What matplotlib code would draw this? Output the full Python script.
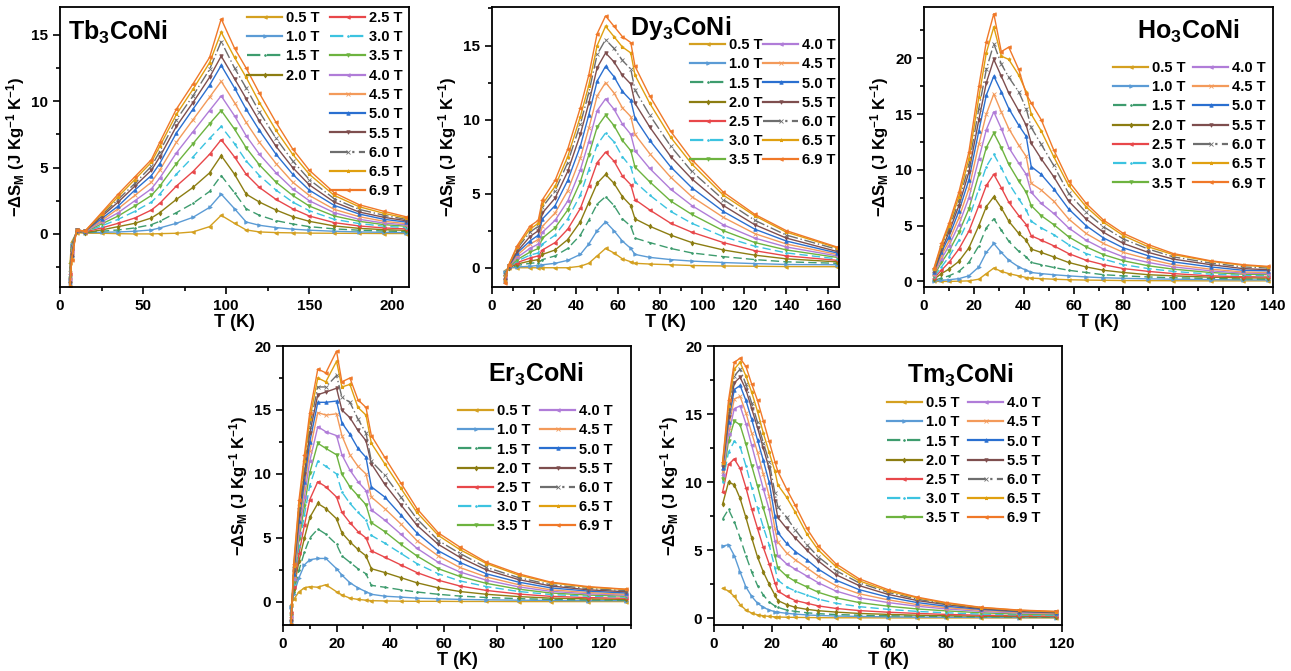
import matplotlib
matplotlib.use("Agg")
import matplotlib.pyplot as plt
from matplotlib.lines import Line2D
from matplotlib.ticker import MultipleLocator

plt.rcParams.update({
    "font.family": ["Liberation Sans", "DejaVu Sans"],
    "font.weight": "bold",
    "axes.labelweight": "bold",
    "mathtext.fontset": "custom",
    "mathtext.rm": "Liberation Sans:bold",
    "mathtext.bf": "Liberation Sans:bold",
    "mathtext.it": "Liberation Sans:bold",
    "mathtext.default": "bf",
})

# applied magnetic field steps, one curve each
fields = ["0.5 T", "1.0 T", "1.5 T", "2.0 T", "2.5 T", "3.0 T", "3.5 T",
          "4.0 T", "4.5 T", "5.0 T", "5.5 T", "6.0 T", "6.5 T", "6.9 T"]
colors = ["#D4A020", "#5B9BD5", "#3E9C6E", "#8C7D12", "#E8474A", "#3CC3E0", "#6DB33F",
          "#B07CD8", "#F39A5A", "#2A6FD0", "#7E4E4E", "#6E6E6E", "#E0A010", "#F07828"]
linestyles = ["-", "-", (0, (6, 3)), "-", "-", (0, (6, 3)), "-",
              "-", "-", "-", "-", (0, (8, 2, 1, 2)), "-", "-"]
markers = ["<", ">", ".", "d", "<", ".", "v", "<", "x", "^", "v", "x", "*", "<"]

# Tb3CoNi: -dS_M vs T
tb_T = [6, 7, 10, 15, 25, 35, 45, 55, 60, 70, 80, 90, 97, 105, 112, 120, 130, 140, 150, 165, 180, 195, 208]
tb_dS = [
    [-2.2, -0.6, 0.1, 0.05, 0.05, 0.02, 0.0, 0.0, 0.02, 0.05, 0.15, 0.55, 1.4, 0.8, 0.3, 0.15, 0.1, 0.08, 0.06, 0.05, 0.04, 0.03, 0.03],
    [-3.4, -0.8, 0.15, 0.1, 0.12, 0.15, 0.2, 0.3, 0.45, 0.8, 1.25, 2.0, 3.0, 1.9, 0.9, 0.65, 0.48, 0.36, 0.28, 0.2, 0.15, 0.12, 0.1],
    [-2.6, -0.9, 0.2, 0.1, 0.2, 0.3, 0.45, 0.7, 0.95, 1.6, 2.3, 3.2, 4.4, 3.1, 1.9, 1.4, 1.0, 0.75, 0.55, 0.38, 0.28, 0.22, 0.18],
    [-2.8, -1.0, 0.2, 0.1, 0.3, 0.55, 0.8, 1.2, 1.6, 2.6, 3.5, 4.6, 5.9, 4.5, 3.0, 2.4, 1.8, 1.3, 0.95, 0.6, 0.42, 0.32, 0.27],
    [-3.0, -1.1, 0.2, 0.15, 0.45, 0.8, 1.2, 1.8, 2.3, 3.6, 4.7, 6.0, 7.1, 5.8, 4.5, 3.5, 2.6, 1.9, 1.35, 0.85, 0.6, 0.45, 0.38],
    [-3.2, -1.2, 0.25, 0.15, 0.6, 1.1, 1.7, 2.4, 3.0, 4.5, 5.8, 7.2, 8.1, 6.8, 5.5, 4.4, 3.3, 2.4, 1.75, 1.1, 0.78, 0.58, 0.48],
    [-3.3, -1.3, 0.25, 0.15, 0.75, 1.35, 2.1, 2.9, 3.6, 5.3, 6.8, 8.3, 9.3, 7.9, 6.5, 5.2, 3.9, 2.9, 2.1, 1.35, 0.95, 0.7, 0.58],
    [-3.4, -1.4, 0.25, 0.15, 0.9, 1.6, 2.5, 3.4, 4.2, 6.1, 7.7, 9.3, 10.4, 8.9, 7.4, 6.0, 4.6, 3.4, 2.5, 1.6, 1.1, 0.82, 0.68],
    [-3.5, -1.5, 0.3, 0.2, 1.0, 1.9, 2.9, 3.9, 4.8, 6.9, 8.6, 10.3, 11.5, 9.9, 8.4, 6.9, 5.3, 3.9, 2.9, 1.85, 1.3, 0.95, 0.78],
    [-3.6, -1.6, 0.3, 0.2, 1.15, 2.1, 3.3, 4.4, 5.3, 7.6, 9.4, 11.2, 12.7, 11.0, 9.4, 7.8, 6.0, 4.5, 3.3, 2.15, 1.5, 1.1, 0.9],
    [-3.7, -1.7, 0.3, 0.2, 1.3, 2.4, 3.6, 4.8, 5.8, 8.1, 9.9, 11.8, 13.4, 11.7, 10.2, 8.5, 6.6, 5.0, 3.7, 2.4, 1.65, 1.25, 1.0],
    [-3.8, -1.8, 0.3, 0.2, 1.4, 2.6, 3.8, 5.1, 6.2, 8.6, 10.4, 12.4, 14.5, 12.5, 11.0, 9.2, 7.2, 5.5, 4.1, 2.65, 1.85, 1.4, 1.1],
    [-3.9, -1.9, 0.3, 0.2, 1.5, 2.8, 4.1, 5.4, 6.6, 9.0, 10.9, 12.9, 15.2, 13.3, 11.8, 9.9, 7.8, 6.0, 4.5, 2.9, 2.05, 1.55, 1.2],
    [-4.0, -2.0, 0.3, 0.2, 1.6, 3.0, 4.3, 5.6, 6.9, 9.4, 11.3, 13.3, 16.2, 14.0, 12.5, 10.6, 8.4, 6.4, 4.8, 3.1, 2.2, 1.7, 1.3],
]

# Dy3CoNi
dy_T = [6, 8, 12, 18, 22, 24, 30, 36, 42, 46, 50, 54, 58, 62, 66, 68, 75, 85, 95, 110, 125, 140, 164]
dy_dS = [
    [-0.2, 0.0, 0.0, 0.0, 0.0, 0.0, 0.0, 0.0, 0.1, 0.3, 0.8, 1.3, 1.0, 0.6, 0.4, 0.3, 0.25, 0.2, 0.15, 0.12, 0.1, 0.08, 0.07],
    [-0.3, 0.0, 0.05, 0.1, 0.15, 0.2, 0.3, 0.5, 0.9, 1.6, 2.5, 3.1, 2.5, 1.8, 1.3, 0.9, 0.7, 0.55, 0.45, 0.35, 0.28, 0.22, 0.2],
    [-0.4, 0.0, 0.15, 0.3, 0.35, 0.55, 0.8, 1.3, 2.2, 3.2, 4.3, 4.8, 4.2, 3.3, 2.8, 2.0, 1.7, 1.3, 1.0, 0.75, 0.55, 0.4, 0.3],
    [-0.5, 0.0, 0.25, 0.45, 0.55, 0.9, 1.2, 1.9, 3.1, 4.4, 5.7, 6.3, 5.7, 4.8, 4.2, 3.3, 2.8, 2.2, 1.7, 1.2, 0.85, 0.6, 0.4],
    [-0.5, 0.05, 0.35, 0.65, 0.8, 1.2, 1.7, 2.6, 4.0, 5.5, 7.1, 7.8, 7.2, 6.2, 5.6, 4.6, 3.9, 3.0, 2.4, 1.7, 1.15, 0.8, 0.5],
    [-0.6, 0.05, 0.45, 0.85, 1.0, 1.6, 2.2, 3.3, 4.9, 6.6, 8.3, 9.1, 8.5, 7.5, 6.8, 5.8, 4.9, 3.8, 3.0, 2.1, 1.45, 1.0, 0.6],
    [-0.6, 0.05, 0.55, 1.05, 1.3, 2.0, 2.7, 3.9, 5.8, 7.6, 9.5, 10.3, 9.6, 8.6, 7.9, 6.8, 5.8, 4.5, 3.6, 2.5, 1.7, 1.2, 0.7],
    [-0.7, 0.1, 0.7, 1.3, 1.6, 2.4, 3.2, 4.5, 6.6, 8.5, 10.6, 11.4, 10.7, 9.7, 9.0, 7.9, 6.7, 5.3, 4.2, 2.9, 2.0, 1.4, 0.8],
    [-0.7, 0.1, 0.85, 1.6, 1.9, 2.8, 3.7, 5.2, 7.4, 9.4, 11.6, 12.5, 11.8, 10.8, 10.2, 9.0, 7.7, 6.1, 4.8, 3.4, 2.3, 1.6, 0.9],
    [-0.8, 0.1, 1.0, 1.8, 2.2, 3.3, 4.2, 5.9, 8.2, 10.3, 12.6, 13.6, 12.9, 11.9, 11.3, 10.1, 8.6, 6.8, 5.4, 3.8, 2.6, 1.8, 1.0],
    [-0.8, 0.15, 1.1, 2.1, 2.5, 3.7, 4.7, 6.5, 9.0, 11.1, 13.5, 14.5, 13.9, 13.0, 12.4, 11.1, 9.5, 7.5, 6.0, 4.2, 2.9, 2.0, 1.1],
    [-0.9, 0.15, 1.3, 2.4, 2.8, 4.1, 5.2, 7.1, 9.7, 11.8, 14.4, 15.4, 14.8, 14.0, 13.4, 12.0, 10.3, 8.2, 6.5, 4.6, 3.2, 2.2, 1.25],
    [-0.9, 0.2, 1.4, 2.6, 3.0, 4.3, 5.5, 7.5, 10.2, 12.3, 15.0, 16.3, 15.6, 14.9, 14.5, 13.0, 11.1, 8.8, 7.0, 4.9, 3.5, 2.4, 1.35],
    [-1.0, 0.2, 1.5, 2.8, 3.2, 4.6, 5.9, 8.0, 10.8, 13.0, 15.8, 17.0, 16.3, 15.6, 15.2, 13.6, 11.6, 9.2, 7.3, 5.1, 3.6, 2.5, 1.4],
]

# Ho3CoNi
ho_T = [4, 7, 10, 14, 18, 22, 25, 28, 31, 34, 38, 41, 43, 47, 52, 58, 65, 72, 80, 90, 100, 115, 128, 138]
ho_dS = [
    [0.0, 0.0, 0.0, 0.02, 0.05, 0.2, 0.7, 1.2, 0.9, 0.7, 0.5, 0.35, 0.3, 0.25, 0.2, 0.15, 0.12, 0.1, 0.08, 0.07, 0.06, 0.05, 0.05, 0.05],
    [0.05, 0.1, 0.15, 0.25, 0.5, 1.3, 2.6, 3.4, 2.6, 1.9, 1.3, 1.0, 0.8, 0.7, 0.6, 0.5, 0.4, 0.33, 0.28, 0.23, 0.2, 0.16, 0.14, 0.13],
    [0.1, 0.3, 0.5, 0.9, 1.7, 3.2, 4.8, 5.6, 4.6, 3.6, 2.7, 2.2, 1.7, 1.5, 1.25, 1.0, 0.8, 0.6, 0.5, 0.4, 0.33, 0.27, 0.22, 0.2],
    [0.2, 0.7, 1.1, 1.8, 3.0, 5.0, 6.7, 7.6, 6.6, 5.4, 4.3, 3.7, 2.9, 2.6, 2.2, 1.7, 1.3, 1.0, 0.8, 0.6, 0.5, 0.38, 0.32, 0.3],
    [0.3, 1.0, 1.7, 2.9, 4.5, 6.8, 8.6, 9.6, 8.4, 7.1, 5.9, 5.1, 4.1, 3.7, 3.2, 2.5, 1.9, 1.5, 1.15, 0.9, 0.7, 0.5, 0.42, 0.4],
    [0.4, 1.3, 2.2, 3.7, 5.6, 8.3, 10.3, 11.4, 10.2, 8.8, 7.4, 6.4, 5.4, 4.8, 4.2, 3.3, 2.5, 2.0, 1.5, 1.15, 0.9, 0.65, 0.55, 0.5],
    [0.5, 1.7, 2.7, 4.4, 6.5, 9.6, 12.0, 13.3, 12.0, 10.5, 9.0, 8.0, 6.8, 5.9, 5.1, 4.0, 3.1, 2.4, 1.85, 1.4, 1.1, 0.8, 0.65, 0.6],
    [0.6, 2.0, 3.2, 5.1, 7.5, 11.0, 13.6, 15.2, 13.7, 12.0, 10.6, 9.6, 8.0, 7.0, 6.1, 4.8, 3.7, 2.9, 2.2, 1.7, 1.3, 0.95, 0.75, 0.7],
    [0.7, 2.3, 3.6, 5.7, 8.3, 12.3, 15.0, 16.8, 15.2, 13.7, 12.2, 11.2, 8.8, 8.2, 7.2, 5.6, 4.3, 3.4, 2.6, 2.0, 1.5, 1.1, 0.85, 0.8],
    [0.8, 2.6, 4.0, 6.3, 9.1, 13.5, 16.7, 18.4, 17.0, 15.5, 14.0, 13.0, 10.3, 9.6, 8.3, 6.5, 5.0, 3.9, 3.0, 2.3, 1.75, 1.3, 1.0, 0.95],
    [0.9, 2.8, 4.4, 6.8, 9.8, 14.5, 17.8, 19.9, 18.4, 16.9, 15.3, 14.0, 12.4, 11.0, 9.4, 7.2, 5.6, 4.4, 3.4, 2.6, 2.0, 1.5, 1.15, 1.05],
    [1.0, 3.0, 4.7, 7.2, 10.4, 15.5, 19.0, 21.3, 19.5, 18.3, 17.0, 15.5, 13.8, 12.3, 10.4, 7.9, 6.2, 4.9, 3.8, 2.9, 2.2, 1.65, 1.3, 1.2],
    [1.1, 3.2, 5.0, 7.6, 11.0, 16.5, 20.5, 22.8, 20.2, 19.9, 18.5, 17.0, 15.0, 13.5, 11.2, 8.6, 6.7, 5.3, 4.1, 3.1, 2.4, 1.8, 1.45, 1.3],
    [1.2, 3.4, 5.2, 8.0, 11.6, 17.5, 21.5, 24.0, 20.6, 21.0, 19.0, 16.8, 16.0, 14.5, 11.8, 9.0, 7.0, 5.5, 4.3, 3.3, 2.5, 1.85, 1.5, 1.35],
]

# Er3CoNi
er_T = [3, 4, 6, 8, 10, 13, 16, 20, 22, 25, 28, 31, 33, 38, 44, 50, 58, 66, 76, 88, 100, 114, 128]
er_dS = [
    [-0.2, 0.2, 0.8, 1.1, 1.2, 1.15, 1.35, 0.8, 0.55, 0.3, 0.2, 0.14, 0.1, 0.08, 0.06, 0.05, 0.05, 0.04, 0.04, 0.03, 0.03, 0.03, 0.03],
    [-0.4, 0.6, 1.9, 2.9, 3.3, 3.4, 3.4, 2.6, 2.1, 1.5, 1.1, 0.8, 0.6, 0.45, 0.38, 0.3, 0.25, 0.2, 0.17, 0.14, 0.12, 0.1, 0.1],
    [-0.6, 0.8, 2.5, 3.9, 5.0, 5.7, 5.3, 4.5, 3.6, 3.1, 2.6, 2.2, 1.3, 1.15, 0.95, 0.78, 0.6, 0.46, 0.35, 0.26, 0.2, 0.16, 0.14],
    [-0.8, 1.0, 3.2, 5.0, 6.6, 7.7, 7.3, 6.5, 5.4, 4.7, 4.1, 3.6, 2.6, 2.3, 1.9, 1.5, 1.1, 0.82, 0.6, 0.42, 0.3, 0.24, 0.2],
    [-0.9, 1.2, 3.8, 6.0, 8.0, 9.4, 9.0, 8.2, 7.0, 6.2, 5.5, 5.0, 4.0, 3.5, 2.9, 2.3, 1.7, 1.25, 0.9, 0.62, 0.44, 0.34, 0.29],
    [-1.0, 1.4, 4.4, 6.8, 9.1, 11.0, 10.6, 10.0, 8.6, 7.7, 7.0, 6.4, 5.2, 4.6, 3.8, 3.0, 2.2, 1.65, 1.2, 0.82, 0.58, 0.45, 0.38],
    [-1.1, 1.6, 4.9, 7.5, 10.1, 12.4, 12.0, 11.5, 10.0, 9.0, 8.3, 7.6, 6.2, 5.5, 4.5, 3.6, 2.6, 2.0, 1.45, 1.0, 0.7, 0.54, 0.45],
    [-1.2, 1.8, 5.4, 8.2, 11.0, 13.7, 13.3, 13.0, 11.5, 10.3, 9.4, 8.7, 7.2, 6.4, 5.3, 4.2, 3.1, 2.35, 1.7, 1.18, 0.83, 0.64, 0.53],
    [-1.3, 2.0, 5.9, 8.9, 11.8, 14.8, 14.6, 14.7, 13.0, 11.5, 10.6, 10.0, 8.2, 7.3, 6.1, 4.8, 3.6, 2.7, 1.95, 1.35, 0.95, 0.74, 0.6],
    [-1.4, 2.2, 6.3, 9.4, 12.5, 15.6, 15.6, 15.7, 14.0, 13.1, 12.0, 11.3, 9.0, 8.2, 6.8, 5.4, 4.0, 3.1, 2.2, 1.55, 1.1, 0.85, 0.7],
    [-1.5, 2.4, 6.8, 10.0, 13.2, 16.2, 16.4, 16.7, 15.0, 14.4, 13.4, 12.6, 10.8, 9.2, 7.6, 6.0, 4.5, 3.5, 2.5, 1.75, 1.25, 0.95, 0.8],
    [-1.6, 2.6, 7.2, 10.5, 13.7, 16.8, 16.8, 17.7, 16.0, 15.6, 14.3, 13.2, 11.0, 9.9, 8.2, 6.5, 4.8, 3.8, 2.7, 1.9, 1.35, 1.05, 0.88],
    [-1.7, 2.8, 7.6, 11.0, 14.3, 17.5, 17.2, 18.8, 16.8, 17.0, 15.2, 14.6, 12.4, 10.8, 8.9, 7.0, 5.2, 4.1, 3.0, 2.1, 1.5, 1.15, 0.98],
    [-1.8, 3.0, 8.0, 11.5, 14.8, 18.2, 17.9, 19.6, 17.2, 17.5, 15.8, 15.2, 13.0, 11.3, 9.3, 7.3, 5.4, 4.3, 3.1, 2.2, 1.55, 1.2, 1.0],
]

# Tm3CoNi
tm_T = [3, 5, 7, 9, 11, 13, 15, 17, 19, 21, 22, 25, 28, 32, 36, 42, 50, 60, 70, 80, 92, 105, 118]
tm_dS = [
    [2.2, 2.0, 1.6, 1.0, 0.6, 0.38, 0.25, 0.18, 0.13, 0.1, 0.09, 0.07, 0.06, 0.05, 0.04, 0.03, 0.03, 0.02, 0.02, 0.02, 0.02, 0.02, 0.02],
    [5.3, 5.4, 4.6, 3.4, 2.3, 1.6, 1.1, 0.8, 0.6, 0.48, 0.44, 0.36, 0.3, 0.24, 0.2, 0.16, 0.13, 0.1, 0.08, 0.07, 0.06, 0.05, 0.05],
    [7.3, 8.0, 7.1, 5.9, 4.6, 3.4, 2.4, 1.7, 1.2, 0.9, 0.8, 0.6, 0.5, 0.4, 0.33, 0.27, 0.22, 0.18, 0.15, 0.12, 0.1, 0.08, 0.07],
    [8.4, 10.0, 9.8, 8.8, 7.4, 5.9, 4.5, 3.4, 2.5, 1.7, 1.3, 1.0, 0.8, 0.65, 0.55, 0.45, 0.35, 0.28, 0.22, 0.18, 0.15, 0.12, 0.1],
    [9.3, 11.3, 11.7, 11.0, 9.6, 8.0, 6.6, 5.2, 4.0, 2.6, 2.0, 1.6, 1.3, 1.1, 0.9, 0.72, 0.56, 0.44, 0.35, 0.28, 0.22, 0.18, 0.15],
    [10.0, 12.2, 13.0, 12.6, 11.2, 9.6, 8.1, 6.7, 5.4, 3.7, 2.8, 2.3, 2.0, 1.7, 1.4, 1.1, 0.85, 0.65, 0.5, 0.4, 0.3, 0.24, 0.2],
    [10.2, 13.0, 14.5, 14.2, 12.8, 11.2, 9.7, 8.1, 6.6, 4.6, 3.7, 3.1, 2.7, 2.3, 1.9, 1.5, 1.15, 0.88, 0.68, 0.54, 0.4, 0.3, 0.26],
    [10.5, 13.5, 15.4, 15.6, 14.3, 12.7, 11.1, 9.5, 8.0, 5.7, 4.6, 4.0, 3.6, 3.1, 2.6, 2.0, 1.5, 1.15, 0.88, 0.68, 0.5, 0.38, 0.32],
    [10.8, 14.0, 16.1, 16.3, 15.1, 13.6, 12.2, 10.6, 9.0, 6.6, 5.6, 4.8, 4.3, 3.7, 3.1, 2.4, 1.8, 1.35, 1.0, 0.78, 0.58, 0.43, 0.36],
    [11.0, 14.4, 16.8, 17.1, 16.0, 14.6, 13.1, 11.6, 10.0, 7.5, 6.3, 5.5, 4.9, 4.3, 3.6, 2.8, 2.1, 1.55, 1.15, 0.88, 0.65, 0.48, 0.4],
    [11.2, 14.8, 17.3, 17.7, 16.8, 15.4, 14.0, 12.5, 11.0, 8.6, 7.4, 6.6, 5.9, 5.0, 4.2, 3.2, 2.4, 1.75, 1.3, 1.0, 0.7, 0.52, 0.42],
    [11.3, 15.2, 17.8, 18.3, 17.2, 15.8, 14.4, 12.9, 11.5, 9.2, 8.2, 7.4, 6.5, 5.4, 4.5, 3.5, 2.6, 1.9, 1.4, 1.05, 0.75, 0.55, 0.45],
    [11.4, 15.6, 18.3, 18.8, 17.8, 16.6, 15.2, 13.6, 12.2, 10.8, 9.8, 8.9, 7.8, 6.2, 5.0, 3.8, 2.75, 2.0, 1.5, 1.1, 0.78, 0.58, 0.48],
    [11.5, 16.0, 18.8, 19.1, 18.5, 17.2, 16.0, 14.5, 13.0, 11.5, 10.8, 9.5, 8.3, 6.6, 5.3, 4.0, 2.9, 2.1, 1.55, 1.15, 0.8, 0.6, 0.5],
]

W, H = 1291, 671
fig = plt.figure(figsize=(W / 100, H / 100), dpi=100)


def fx(x):
    return x / W


def fy(y):
    return 1 - y / H


# box = (left, top, right, bottom) in pixels; split = entries in the first legend column
panels = [
    dict(title=r"Tb$_3$CoNi", T=tb_T, dS=tb_dS, box=(60, 7, 409, 287), xlim=(0, 210), ylim=(-4.0, 17.1),
         xstep=50, ystep=5, title_at=(68, 40), split=4, leg_left=(247, 11), leg_right=(330, 11)),
    dict(title=r"Dy$_3$CoNi", T=dy_T, dS=dy_dS, box=(492, 7, 839, 287), xlim=(0, 165), ylim=(-1.3, 17.6),
         xstep=20, ystep=5, title_at=(630, 35), split=7, leg_left=(690, 38), leg_right=(763, 38)),
    dict(title=r"Ho$_3$CoNi", T=ho_T, dS=ho_dS, box=(924, 7, 1273, 287), xlim=(0, 140), ylim=(-0.5, 24.6),
         xstep=20, ystep=5, title_at=(1137, 39), split=7, leg_left=(1113, 61), leg_right=(1193, 61)),
    dict(title=r"Er$_3$CoNi", T=er_T, dS=er_dS, box=(283, 346, 631, 625), xlim=(0, 130), ylim=(-1.8, 20),
         xstep=20, ystep=5, title_at=(488, 382), split=7, leg_left=(458, 404), leg_right=(540, 404)),
    dict(title=r"Tm$_3$CoNi", T=tm_T, dS=tm_dS, box=(714, 346, 1062, 625), xlim=(0, 120), ylim=(-0.5, 20),
         xstep=20, ystep=5, title_at=(907, 383), split=7, leg_left=(887, 396), leg_right=(968, 396)),
]

legend_kw = dict(loc="upper left", frameon=False, borderpad=0, borderaxespad=0,
                 handlelength=2.4, handletextpad=0.3, labelspacing=0.36,
                 prop={"size": 10.5, "weight": "bold"})

for p in panels:
    left, top, right, bottom = p["box"]
    ax = fig.add_axes([fx(left), fy(bottom), (right - left) / W, (bottom - top) / H])

    handles = []
    for i, ys in enumerate(p["dS"]):
        ax.plot(p["T"], ys, color=colors[i], ls=linestyles[i], lw=1.0,
                marker=markers[i], ms=2.5, mew=0.6)
        handles.append(Line2D([], [], color=colors[i], ls=linestyles[i], lw=1.6,
                              marker=markers[i], ms=2.5, mew=0.6))

    ax.set_xlim(*p["xlim"])
    ax.set_ylim(*p["ylim"])
    ax.xaxis.set_major_locator(MultipleLocator(p["xstep"]))
    ax.xaxis.set_minor_locator(MultipleLocator(p["xstep"] / 2))
    ax.yaxis.set_major_locator(MultipleLocator(p["ystep"]))
    ax.yaxis.set_minor_locator(MultipleLocator(p["ystep"] / 2))
    ax.tick_params(which="both", direction="out", width=1.2, labelsize=11)
    ax.tick_params(which="major", length=5)
    ax.tick_params(which="minor", length=3)
    for lab in ax.get_xticklabels() + ax.get_yticklabels():
        lab.set_fontweight("bold")
    for s in ax.spines.values():
        s.set_linewidth(1.3)

    ax.set_xlabel("T (K)", fontsize=13, labelpad=1)
    ax.set_ylabel(r"$-\Delta S_M$ (J Kg$^{-1}$ K$^{-1}$)", fontsize=12, labelpad=3)

    fig.text(fx(p["title_at"][0]), fy(p["title_at"][1]), p["title"], fontsize=18,
             fontweight="bold", ha="left", va="baseline")

    k = p["split"]
    lx, ly = p["leg_left"]
    rx, ry = p["leg_right"]
    leg1 = ax.legend(handles[:k], fields[:k], bbox_to_anchor=(fx(lx), fy(ly)),
                     bbox_transform=fig.transFigure, **legend_kw)
    ax.add_artist(leg1)
    ax.legend(handles[k:], fields[k:], bbox_to_anchor=(fx(rx), fy(ry)),
              bbox_transform=fig.transFigure, **legend_kw)

fig.savefig("out.png", dpi=100)
